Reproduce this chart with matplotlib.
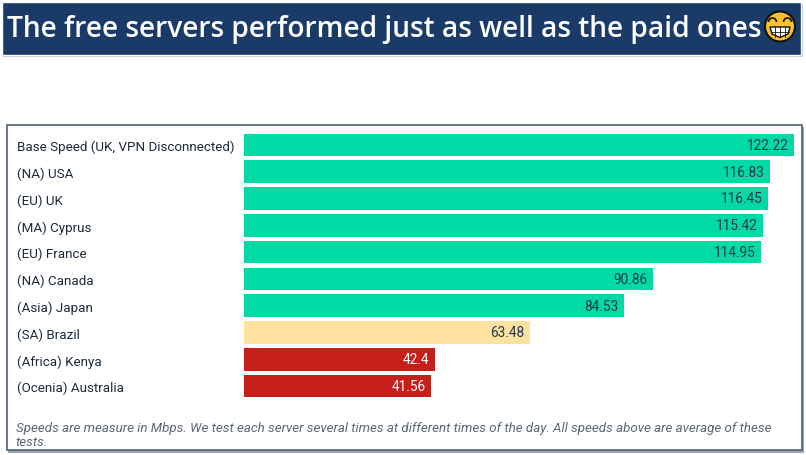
import matplotlib
matplotlib.use("Agg")
import matplotlib.pyplot as plt
from matplotlib.patches import Arc, Circle, Polygon, Rectangle

labels = ["Base Speed (UK, VPN Disconnected)", "(NA) USA", "(EU) UK", "(MA) Cyprus",
          "(EU) France", "(NA) Canada", "(Asia) Japan", "(SA) Brazil",
          "(Africa) Kenya", "(Ocenia) Australia"]
speeds = [122.22, 116.83, 116.45, 115.42, 114.95, 90.86, 84.53, 63.48, 42.4, 41.56]
value_labels = ["122.22", "116.83", "116.45", "115.42", "114.95", "90.86", "84.53", "63.48", "42.4", "41.56"]
bar_colors = ["#00dba6"] * 7 + ["#ffe29f"] + ["#c81e1a"] * 2
text_colors = ["#22384f"] * 8 + ["white"] * 2

title = "The free servers performed just as well as the paid ones"
note = ("Speeds are measure in Mbps. We test each server several times at different times of the day. "
        "All speeds above are average of these\ntests.")

W, H = 806, 456
plt.rcParams["font.family"] = ["Roboto", "DejaVu Sans"]
fig = plt.figure(figsize=(W / 100, H / 100), dpi=100, facecolor="white")

# background layer in pixel coords, y down
bg = fig.add_axes([0, 0, 1, 1])
bg.set_xlim(0, W); bg.set_ylim(H, 0); bg.axis("off")
bg.add_patch(Rectangle((3, 5), 800, 53, fc="#c4c4c4", ec="none"))
bg.add_patch(Rectangle((2, 3), 799, 53, fc="#1a3a68", ec="white", lw=1))
bg.text(7, 29, title, color="white", fontsize=20.25, family="Open Sans", weight="semibold", va="center", ha="left")

# emoji
bg.add_patch(Circle((780, 27.5), 15, fc="#fbc02d", ec="#111111", lw=1.5))
bg.add_patch(Arc((772.5, 23), 8, 8, theta1=180, theta2=360, ec="#111111", lw=1.2))
bg.add_patch(Arc((787.5, 23), 8, 8, theta1=180, theta2=360, ec="#111111", lw=1.2))
bg.add_patch(Polygon([(770, 28), (790, 28), (788, 35), (780, 38.5), (772, 35)], fc="white", ec="#111111", lw=1))
for x in (775, 780, 785):
    bg.plot([x, x], [28, 37.5], color="#111111", lw=0.6)
bg.plot([771, 789], [32.5, 32.5], color="#111111", lw=0.6)

# chart frame
bg.add_patch(Rectangle((8, 128), 796, 326, fc="#9aa3ad", ec="none"))
bg.add_patch(Rectangle((6.5, 125.5), 795, 326, fc="white", ec="#4d6178", lw=1.2))

ax = fig.add_axes([244 / W, 1 - 400.5 / H, 550 / W, (400.5 - 132.5) / H])
ax.patch.set_alpha(0)
ypos = list(range(len(speeds)))
ax.barh(ypos, speeds, height=0.84, color=bar_colors)
ax.set_xlim(0, 122.22)
ax.set_ylim(len(speeds) - 0.5, -0.5)
ax.set_yticks(ypos, labels)
ax.set_xticks([])
ax.tick_params(axis="y", length=0, pad=0)
for t in ax.get_yticklabels():
    t.set_ha("left")
    t.set_x(-227 / 550)
    t.set_fontsize(9.6)
    t.set_color("#1b2a3a")
for s in ax.spines.values():
    s.set_visible(False)
for y, v, s, c in zip(ypos, speeds, value_labels, text_colors):
    ax.annotate(s, (v, y), xytext=(-4, 0), textcoords="offset points", ha="right", va="center",
                fontsize=9.8, color=c)

bg.text(16, 435.5, note, fontsize=9.68, style="italic", color="#5a6675", va="center", ha="left", linespacing=1.15)

fig.savefig("out.png", dpi=100)
